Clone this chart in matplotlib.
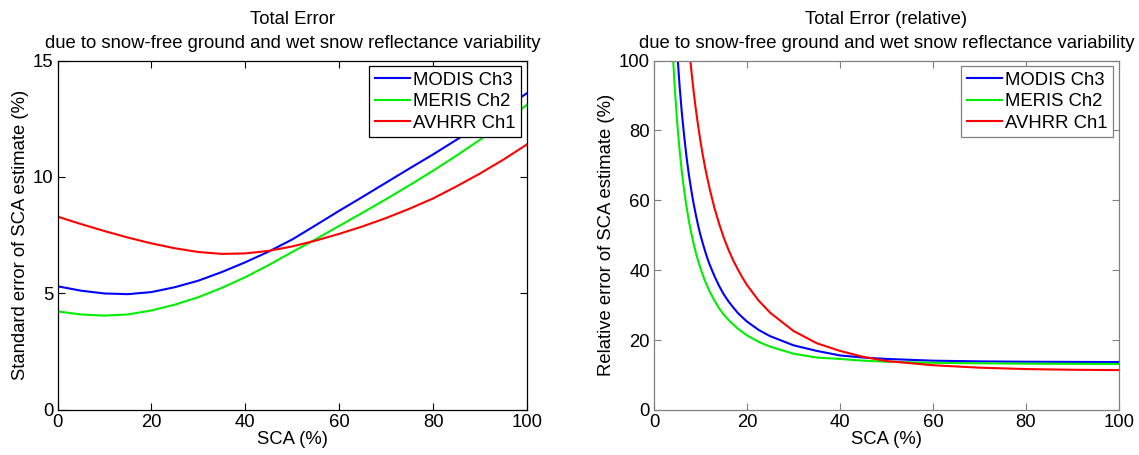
import numpy as np
import matplotlib
matplotlib.use('Agg')
import matplotlib.pyplot as plt

plt.rcParams['font.family'] = ['Liberation Sans', 'DejaVu Sans']
plt.rcParams['font.size'] = 13.3

labels = ['MODIS Ch3', 'MERIS Ch2', 'AVHRR Ch1']
colors = ['#0000ff', '#00ee00', '#ff0000']

# left panel: standard error (%) vs SCA (%)
sca = [0, 5, 10, 15, 20, 25, 30, 35, 40, 45, 50, 55, 60, 65, 70, 75, 80, 85, 90, 95, 100]
err_modis = [5.31, 5.12, 5.0, 4.97, 5.06, 5.27, 5.55, 5.92, 6.34, 6.8, 7.32, 7.93, 8.55, 9.15,
             9.76, 10.37, 10.97, 11.6, 12.25, 12.92, 13.6]
err_meris = [4.23, 4.1, 4.05, 4.1, 4.27, 4.52, 4.84, 5.24, 5.7, 6.22, 6.78, 7.33, 7.9, 8.47,
             9.05, 9.65, 10.27, 10.92, 11.6, 12.33, 13.1]
err_avhrr = [8.3, 7.98, 7.68, 7.4, 7.15, 6.94, 6.78, 6.7, 6.72, 6.83, 7.02, 7.27, 7.56, 7.88,
             8.24, 8.64, 9.08, 9.6, 10.15, 10.75, 11.4]

# right panel: relative error (%) vs SCA (%)
sca_rel = [4, 4.5, 5, 5.5, 6, 6.5, 7, 7.5, 8, 8.5, 9, 9.5, 10, 10.5, 11, 11.5, 12, 13, 14,
           15, 16, 17, 18, 19, 20, 22.5, 25, 30, 35, 40, 45, 50, 60, 70, 80, 90, 100]
rel_modis = [129, 114.2, 102.4, 92.7, 84.8, 78.2, 72.3, 67.3, 63.0, 59.2, 55.8, 52.7, 50.0,
             47.6, 45.4, 43.3, 41.5, 38.3, 35.5, 33.1, 31.1, 29.4, 27.8, 26.5, 25.3, 22.9,
             21.1, 18.5, 16.9, 15.6, 15.0, 14.6, 14.1, 13.9, 13.8, 13.75, 13.7]
rel_meris = [103, 91.3, 82, 74.4, 68, 62.6, 58.1, 54.1, 50.7, 47.7, 45, 42.6, 40.5, 38.6,
             36.8, 35.3, 33.8, 31.3, 29.1, 27.3, 25.8, 24.5, 23.3, 22.3, 21.35, 19.5, 18.1,
             16.1, 15.0, 14.6, 14.1, 13.8, 13.5, 13.35, 13.25, 13.2, 13.15]
rel_avhrr = [201, 178, 159.6, 144.5, 132, 121.4, 112.3, 104.4, 97.5, 91.4, 86.0, 81.2, 76.8,
             72.9, 69.3, 66.1, 63.1, 57.8, 53.3, 49.3, 45.9, 42.9, 40.3, 37.9, 35.75, 31.3,
             27.8, 22.6, 19.1, 16.9, 15.2, 14.0, 12.8, 12.1, 11.7, 11.5, 11.4]

fig = plt.figure(figsize=(11.39, 4.55), dpi=100)
ax1 = fig.add_axes([0.0505, 0.099, 0.4122, 0.768])
ax2 = fig.add_axes([0.5742, 0.099, 0.4082, 0.768])

for y, c, l in zip([err_modis, err_meris, err_avhrr], colors, labels):
    ax1.plot(sca, y, color=c, lw=1.5, label=l)
for y, c, l in zip([rel_modis, rel_meris, rel_avhrr], colors, labels):
    ax2.plot(sca_rel, y, color=c, lw=1.5, label=l)

ax1.set_xlim(0, 100)
ax1.set_ylim(0, 15)
ax1.set_yticks([0, 5, 10, 15])
ax1.set_xlabel('SCA (%)', labelpad=0)
ax1.set_ylabel('Standard error of SCA estimate (%)', labelpad=3)
ax1.set_title('Total Error\ndue to snow-free ground and wet snow reflectance variability',
              fontsize=13.3, pad=9, linespacing=1.55)

ax2.set_xlim(0, 100)
ax2.set_ylim(0, 100)
ax2.set_xlabel('SCA (%)', labelpad=0)
ax2.set_ylabel('Relative error of SCA estimate (%)', labelpad=3)
ax2.set_title('Total Error (relative)\ndue to snow-free ground and wet snow reflectance variability',
              fontsize=13.3, pad=9, linespacing=1.55)

for ax, ec in [(ax1, 'black'), (ax2, '#808080')]:
    ax.set_xticks([0, 20, 40, 60, 80, 100])
    ax.tick_params(direction='in', top=True, right=True, length=5, width=0.8,
                   color=ec, labelsize=13.3, pad=3)
    for s in ax.spines.values():
        s.set_color(ec)
        s.set_linewidth(0.9)
    leg = ax.legend(loc='upper right', fancybox=False, framealpha=1, edgecolor=ec,
                    borderaxespad=0.3, handlelength=1.9, handletextpad=0.2,
                    labelspacing=0.25, borderpad=0.3, fontsize=13.3)
    leg.get_frame().set_linewidth(0.9)

fig.savefig('out.png', dpi=100)
